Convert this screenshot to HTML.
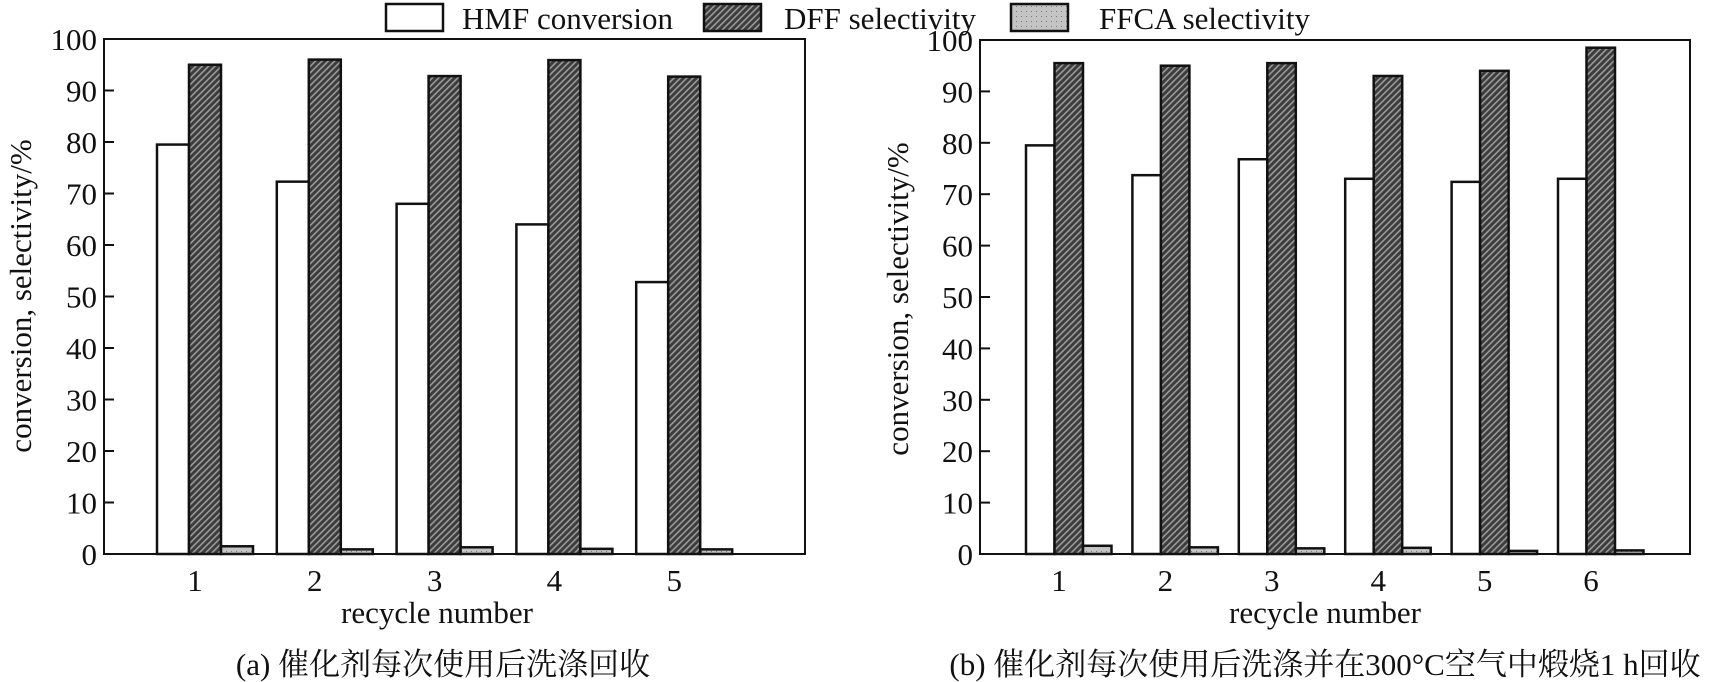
<!DOCTYPE html>
<html><head><meta charset="utf-8"><style>
html,body{margin:0;padding:0;background:#fff;}
svg{display:block;}
text{font-family:"Liberation Serif","Noto Serif CJK SC",serif;fill:#111;}
</style></head><body>
<svg id="chart" width="1713" height="682" viewBox="0 0 1713 682" xmlns="http://www.w3.org/2000/svg">
<defs>
<pattern id="hatch" patternUnits="userSpaceOnUse" width="4.5" height="4.5" patternTransform="rotate(45)">
<rect width="4.5" height="4.5" fill="#3c3c3c"/><rect width="1.6" height="4.5" fill="#9a9a9a"/>
</pattern>
<pattern id="dots" patternUnits="userSpaceOnUse" width="5" height="5">
<rect width="5" height="5" fill="#c4c4c4"/><rect x="1" y="1" width="1" height="1" fill="#777"/>
</pattern>
</defs>
<g>
<rect x="386" y="4" width="57" height="27" fill="#fff" stroke="#111" stroke-width="2.5"/>
<text x="462" y="29" font-size="31">HMF conversion</text>
<rect x="704" y="4" width="57" height="27" fill="url(#hatch)" stroke="#111" stroke-width="2.5"/>
<text x="784" y="29" font-size="31">DFF selectivity</text>
<rect x="1011" y="4" width="57" height="27" fill="url(#dots)" stroke="#111" stroke-width="2.5"/>
<text x="1099" y="29" font-size="31">FFCA selectivity</text>
</g>
</svg>
<script>
const catsA = ["1","2","3","4","5"];
const hmfA = [79.5, 72.3, 68.0, 64.0, 52.8];
const dffA = [95.0, 96.0, 92.8, 95.9, 92.7];
const ffcaA = [1.5, 0.9, 1.3, 1.0, 0.9];
const catsB = ["1","2","3","4","5","6"];
const hmfB = [79.5, 73.7, 76.8, 73.0, 72.4, 73.0];
const dffB = [95.5, 95.0, 95.5, 93.0, 94.0, 98.5];
const ffcaB = [1.6, 1.3, 1.1, 1.2, 0.6, 0.7];
const yTicks = [0,10,20,30,40,50,60,70,80,90,100];

const NS = "http://www.w3.org/2000/svg";
const svg = document.getElementById('chart');
function mk(tag, attrs, parent){
  const e = document.createElementNS(NS, tag);
  for (const k in attrs) e.setAttribute(k, attrs[k]);
  parent.appendChild(e); return e;
}
function panel(cfg){
  const g = mk('g', {}, svg);
  
  
  const y = v => cfg.bottom - (v/100)*(cfg.bottom - cfg.top);
  const gx = i => cfg.start + cfg.step*i;
  cfg.cats.forEach((c,i)=>{
    const x0 = gx(i);
    const series = [[cfg.hmf[i],'#fff','hmf'],[cfg.dff[i],'url(#hatch)','dff'],[cfg.ffca[i],'url(#dots)','ffca']];
    series.forEach((s,j)=>{
      const r = mk('rect', {x:x0 + j*cfg.bw, y:y(s[0]), width:cfg.bw, height:y(0)-y(s[0]), fill:s[1], stroke:'#111', 'stroke-width':2.5}, g);
      
      
    });
    const t = mk('text', {x:x0 + cfg.labOff, y:591, 'font-size':31, 'text-anchor':'middle'}, g);
    
    
    t.textContent = c;
  });
  const f = mk('rect', {x:cfg.left, y:cfg.top, width:cfg.right-cfg.left, height:cfg.bottom-cfg.top, fill:'none', stroke:'#111', 'stroke-width':2}, g);
  
  
  yTicks.forEach(v=>{
    const l = mk('line', {x1:cfg.left, x2:cfg.left+10, y1:y(v), y2:y(v), stroke:'#111', 'stroke-width':2}, g);
    
    
    const t = mk('text', {x:cfg.left-7, y:y(v)+11, 'font-size':31, 'text-anchor':'end'}, g);
    
    
    t.textContent = v;
  });
  const yt = mk('text', {x:0, y:0, 'font-size':31, 'text-anchor':'middle', transform:`translate(${cfg.ytx},${cfg.yty}) rotate(-90)`}, g);
  
  
  yt.textContent = 'conversion, selectivity/%';
  const xt = mk('text', {x:cfg.xtX, y:623, 'font-size':31, 'text-anchor':'middle'}, g);
  
  
  xt.textContent = 'recycle number';
  const cap = mk('text', {x:cfg.capX, y:675, 'font-size':31, 'text-anchor':'middle'}, g);
  
  
  cap.textContent = cfg.caption;
}
panel({id:'panel-a', cats:catsA, hmf:hmfA, dff:dffA, ffca:ffcaA, left:104, right:805, top:39, bottom:554,
  start:157, step:119.8, bw:32, labOff:38, ytx:31, yty:296, xtX:437, capX:443, caption:'(a) 催化剂每次使用后洗涤回收'});
panel({id:'panel-b', cats:catsB, hmf:hmfB, dff:dffB, ffca:ffcaB, left:980, right:1690, top:40, bottom:554,
  start:1026, step:106.4, bw:28.5, labOff:33, ytx:908, yty:299, xtX:1325, capX:1325, caption:'(b) 催化剂每次使用后洗涤并在300°C空气中煅烧1 h回收'});
</script>
</body></html>
